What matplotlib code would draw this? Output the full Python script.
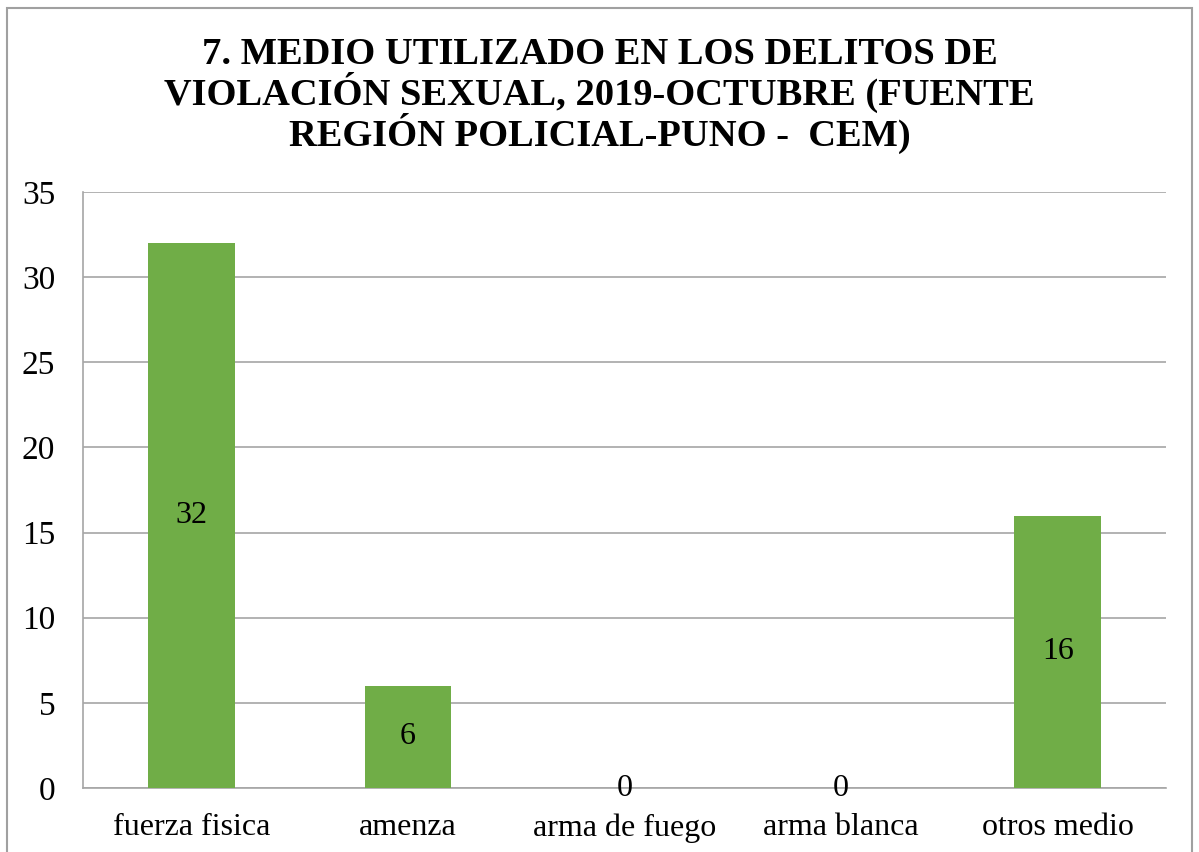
import matplotlib.pyplot as plt
from matplotlib.patches import Rectangle

categories = ["fuerza fisica", "amenza", "arma de fuego", "arma blanca", "otros medio"]
values = [32, 6, 0, 0, 16]
yticks = [0, 5, 10, 15, 20, 25, 30, 35]
title = ("7. MEDIO UTILIZADO EN LOS DELITOS DE\n"
         "VIOLACIÓN SEXUAL, 2019-OCTUBRE (FUENTE\n"
         "REGIÓN POLICIAL-PUNO -  CEM)")

plt.rcParams['font.family'] = ['Liberation Serif', 'DejaVu Serif']

fig = plt.figure(figsize=(11.99, 8.52), dpi=100)
ax = fig.add_axes([0.0692, 0.0751, 0.9033, 0.6995])

# outer chart frame
fig.patches.append(Rectangle((0.0058, -0.05), 0.9884, 1.0406, transform=fig.transFigure,
                             fill=False, edgecolor='#A0A0A0', linewidth=1.5))

x = range(len(categories))
ax.bar(x, values, width=0.4, color='#70AD47', zorder=3)
for i, v in zip(x, values):
    ax.text(i, v / 2, str(v), ha='center', va='center', fontsize=23, zorder=4)

ax.set_xlim(-0.5, len(categories) - 0.5)
ax.set_ylim(0, 35)
ax.set_yticks(yticks)
ax.set_xticks(list(x))
ax.set_xticklabels(categories)
ax.tick_params(axis='x', length=0, labelsize=23, pad=18)
ax.tick_params(axis='y', length=0, labelsize=24, pad=20)
ax.yaxis.grid(True, color='#A6A6A6', linewidth=1.2, zorder=0)
for s in ['top', 'right']:
    ax.spines[s].set_visible(False)
for s in ['left', 'bottom']:
    ax.spines[s].set_color('#A6A6A6')
    ax.spines[s].set_linewidth(1.2)

fig.text(0.5, 1 - 37 / 852, title, ha='center', va='top', fontsize=27.7,
         fontweight='bold', linespacing=1.0)

fig.savefig('out.png', dpi=100)
